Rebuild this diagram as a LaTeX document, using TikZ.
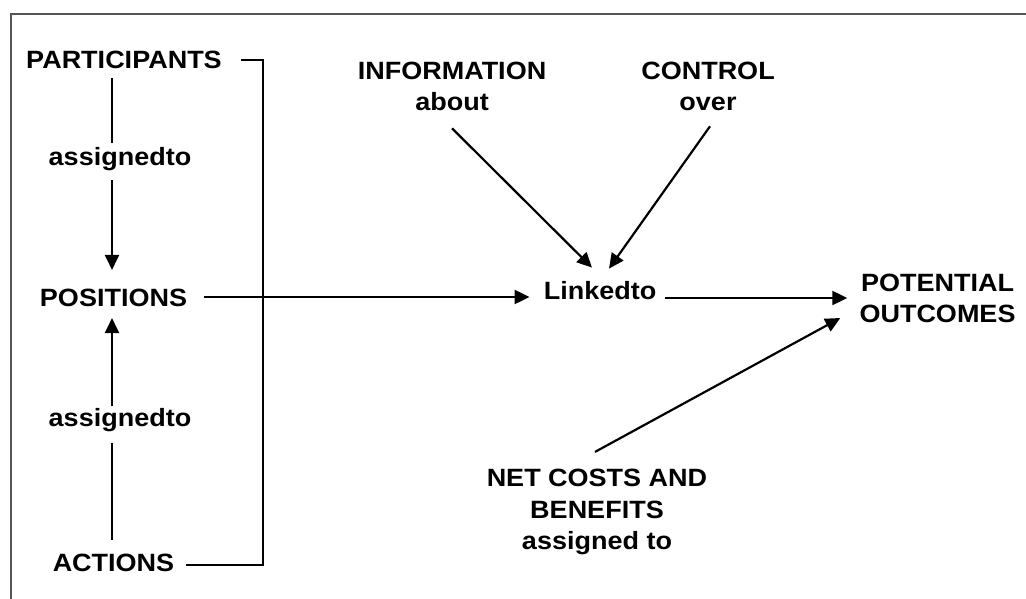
\documentclass[tikz,border=0pt]{standalone}
\usepackage{fontspec}
\setmainfont{Liberation Sans}[FakeStretch=1.08]
\usetikzlibrary{arrows.meta,calc}
\definecolor{framegray}{RGB}{85,85,85}
\begin{document}
\begin{tikzpicture}[x=1pt,y=-1pt,
  lbl/.style={font=\bfseries\fontsize{25}{31.5}\selectfont, inner sep=0pt, align=center},
  conn/.style={line width=2.2pt, -{Triangle[length=15pt,width=14pt]}},
  plainline/.style={line width=2.2pt},
  brk/.style={line width=1.1pt},
  framel/.style={line width=1.8pt, draw=framegray}]
\useasboundingbox (0,0) rectangle (1026,599);
\draw[framel] (11,599) -- (11,14) -- (1026,14);

\node[lbl] (PART) at (124,60) {PARTICIPANTS};
\node[lbl] (a1) at (120,159.5) {assignedto};
\node[lbl] (POS) at (113.5,298) {POSITIONS};
\node[lbl] (a2) at (120,420.4) {assignedto};
\node[lbl] (ACT) at (113.5,563) {ACTIONS};
\node[lbl] (info) at (452,86.5) {INFORMATION\\about};
\node[lbl] (ctrl) at (708,86.5) {CONTROL\\over};
\node[lbl] (link) at (600,291) {Linkedto};
\node[lbl] (pot) at (937.5,298.5) {POTENTIAL\\OUTCOMES};
\node[lbl] (net) at (597,512) {NET COSTS AND\\BENEFITS\\assigned to};

\coordinate (corner) at (263,565);
\draw[brk] ($(PART.east)+(19,0)$) -| (corner) -- ($(ACT.east)+(12,2)$);

\draw[plainline] ($(PART.south)+(-12,9)$) -- ($(a1.north)+(-8,-5)$);
\draw[conn] ($(a1.south)+(-8,9)$) -- ($(POS.north)+(-1.5,-19)$);
\draw[plainline] ($(ACT.north)+(-1.5,-14)$) -- ($(a2.south)+(-8,11)$);
\draw[conn] ($(a2.north)+(-8,-2)$) -- ($(POS.south)+(-1.5,11)$);
\draw[conn] ($(POS.east)+(17,-1)$) -- ($(link.west)+(-14,6)$);
\draw[conn] ($(link.east)+(9,7)$) -- ($(pot.west)+(-12,-0.5)$);
\draw[conn] ($(info.south)+(0,17)$) -- ($(link.north)+(-8,-14)$);
\draw[conn] ($(ctrl.south)+(2,15)$) -- ($(link.north)+(9,-13)$);
\draw[conn] ($(net.north)+(-2,-17)$) -- ($(pot.west)+(-19,19.5)$);
\end{tikzpicture}
\end{document}
